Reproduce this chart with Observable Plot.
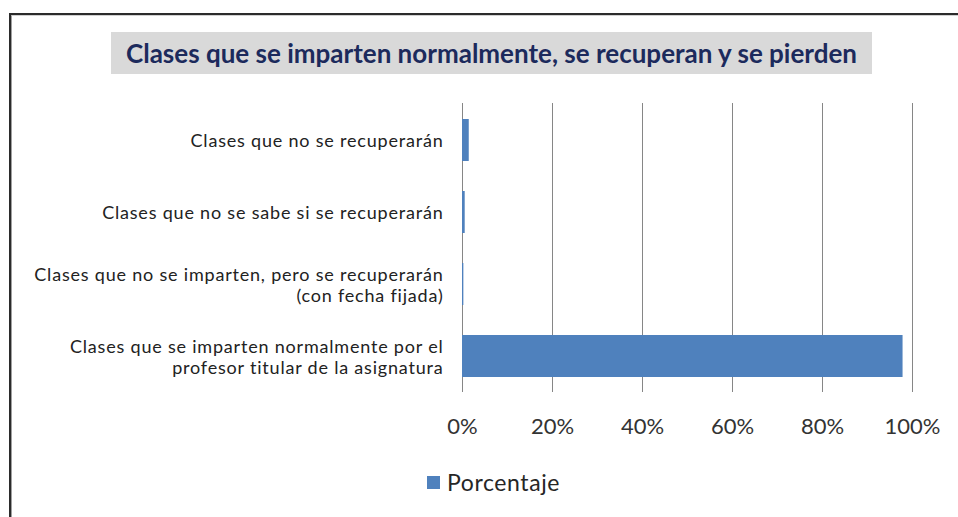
<!DOCTYPE html>
<html>
<head>
<meta charset="utf-8">
<script src="https://cdn.jsdelivr.net/npm/d3@7"></script>
<script src="https://cdn.jsdelivr.net/npm/@observablehq/plot@0.6"></script>
<style>
  html, body { margin: 0; padding: 0; background: #fff; }
  #wrap { position: relative; width: 958px; height: 517px; overflow: hidden; font-family: Lato, "Open Sans", sans-serif; }
  #frame { position: absolute; left: 9px; top: 13px; width: 1000px; height: 600px; border-left: 2px solid #2b2b2b; border-top: 2px solid #2b2b2b; }
  #frame2 { position: absolute; left: 11px; top: 15px; width: 1000px; height: 600px; border-left: 1px solid #a0a0a0; border-top: 1px solid #d0d0d0; }
  #title { position: absolute; left: 111px; top: 32px; width: 761px; height: 42px; background: #d9d9d9; color: #1c2a5c; font-weight: bold; font-size: 26px; line-height: 42px; text-align: center; white-space: nowrap; }
  #chart { position: absolute; left: 0; top: 0; }
  #legend { position: absolute; left: 427px; top: 468px; font-size: 23px; letter-spacing: 0.6px; color: #262626; display: flex; align-items: center; }
  #legend .sw { width: 13px; height: 13px; background: #4f81bd; margin-right: 7px; }
  #chart svg g[aria-label="y-axis tick label"] text { letter-spacing: 0.8px; }
</style>
</head>
<body>
<div id="wrap">
  <div id="frame"></div>
  <div id="frame2"></div>
  <div id="chart"></div>
  <div id="title">Clases que se imparten normalmente, se recuperan y se pierden</div>
  <div id="legend"><div class="sw"></div><span>Porcentaje</span></div>
</div>
<script>
const categorias = [
  "Clases que no se recuperarán",
  "Clases que no se sabe si se recuperarán",
  "Clases que no se imparten, pero se recuperarán\n(con fecha fijada)",
  "Clases que se imparten normalmente por el\nprofesor titular de la asignatura"
];
const porcentajes = [1.5, 0.6, 0.3, 97.9];
const ticksX = [0, 20, 40, 60, 80, 100];
const serie = "Porcentaje";

const data = categorias.map((c, i) => ({categoria: c, valor: porcentajes[i], serie}));

const chart = Plot.plot({
  width: 958,
  height: 517,
  marginTop: 103,
  marginBottom: 125,
  marginLeft: 462,
  marginRight: 46,
  style: {fontFamily: "Lato, 'Open Sans', sans-serif", background: "transparent", overflow: "visible"},
  x: {domain: [0, 100], ticks: ticksX},
  y: {domain: categorias, paddingInner: 0.42, paddingOuter: 0.21},
  marks: [
    Plot.gridX(ticksX, {stroke: "#868686", strokeOpacity: 1, strokeWidth: 1}),
    Plot.barX(data, {x: "valor", y: "categoria", fill: "#4f81bd"}),
    Plot.axisX({ticks: ticksX, tickFormat: d => d + "%", tickSize: 0, tickPadding: 26, fontSize: 22, fill: "#333", label: null}),
    Plot.axisY({tickSize: 0, tickPadding: 19, fontSize: 18, lineHeight: 1.2, fill: "#222", label: null})
  ]
});
document.getElementById("chart").appendChild(chart);
</script>
</body>
</html>
